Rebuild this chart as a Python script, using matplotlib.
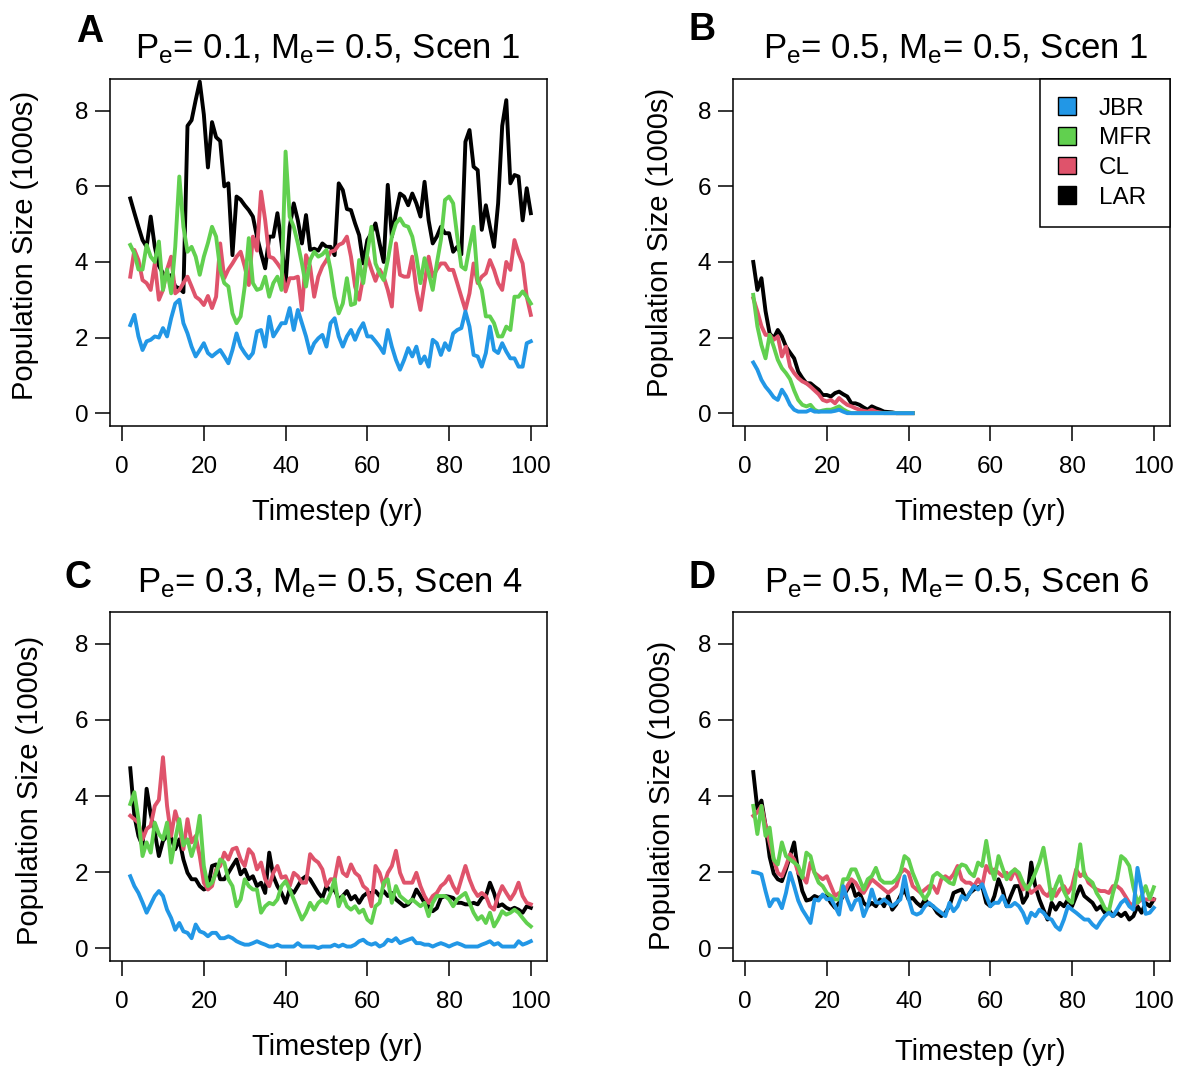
import numpy as np
import matplotlib
matplotlib.use('Agg')
import matplotlib.pyplot as plt
from matplotlib.patches import Patch

plt.rcParams['font.family'] = ['Liberation Sans', 'DejaVu Sans']
plt.rcParams['mathtext.fontset'] = 'custom'
plt.rcParams['mathtext.rm'] = 'Liberation Sans'
plt.rcParams['mathtext.it'] = 'Liberation Sans:italic'

# first simulated year shown in every series
START_YEAR = 2

series_names = ['JBR', 'MFR', 'CL', 'LAR']
series_colors = ['#2297E6', '#61D04F', '#DF536B', 'black']

# ---- panel A: Pe=0.1, Me=0.5, Scen 1 (years 2..100)
a_jbr = [2.33, 2.6, 2.03, 1.67, 1.9, 1.94, 2.03, 2.0, 2.25, 2.03,
         2.51, 2.9, 3.0, 2.38, 2.11, 1.76, 1.5, 1.67, 1.85, 1.59,
         1.5, 1.59, 1.67, 1.5, 1.32, 1.67, 2.11, 1.76, 1.59, 1.45,
         1.59, 2.16, 2.2, 1.76, 2.55, 2.03, 2.2, 2.38, 2.38, 2.78,
         2.2, 2.73, 2.38, 2.03, 1.59, 1.85, 1.98, 2.07, 1.76, 2.38,
         2.51, 2.03, 1.76, 2.03, 2.2, 1.94, 2.2, 2.38, 2.03, 2.03,
         1.9, 1.76, 1.59, 2.2, 1.76, 1.41, 1.15, 1.41, 1.72, 1.5,
         1.76, 1.32, 1.5, 1.23, 1.94, 1.85, 1.54, 1.85, 1.67, 2.11,
         2.2, 2.25, 2.69, 2.29, 1.54, 1.5, 1.23, 1.59, 2.29, 1.67,
         1.59, 1.85, 1.63, 1.45, 1.45, 1.23, 1.23, 1.85, 1.9]
a_mfr = [4.45, 4.23, 3.8, 3.8, 4.45, 4.14, 4.0, 4.54, 3.26, 3.8,
         3.17, 4.4, 6.26, 4.93, 4.27, 4.4, 4.14, 3.66, 4.14, 4.5,
         4.93, 4.67, 3.8, 3.44, 3.35, 2.64, 2.38, 2.56, 3.35, 4.63,
         3.44, 3.26, 3.3, 3.61, 3.08, 3.44, 3.61, 3.26, 6.92, 5.2,
         4.93, 4.49, 3.96, 3.35, 4.05, 4.27, 4.14, 4.2, 4.32, 3.8,
         3.08, 2.64, 2.9, 3.57, 2.86, 2.9, 4.05, 3.44, 4.23, 4.93,
         3.96, 3.7, 3.52, 4.05, 4.67, 5.02, 5.15, 4.97, 4.93, 4.67,
         4.14, 3.44, 4.1, 3.7, 3.26, 3.96, 4.58, 5.64, 5.73, 5.55,
         4.67, 3.88, 3.8, 4.4, 4.93, 3.52, 3.26, 2.56, 2.56, 2.38,
         2.03, 2.03, 2.29, 2.2, 3.08, 3.08, 3.22, 3.08, 2.9]
a_cl = [3.61, 4.32, 4.05, 3.52, 3.44, 3.26, 3.96, 3.0, 3.26, 3.8,
        4.14, 3.17, 3.26, 3.44, 3.61, 3.35, 3.08, 3.0, 2.86, 3.1,
        2.78, 3.08, 4.49, 3.57, 3.8, 3.96, 4.14, 4.27, 3.88, 3.39,
        4.67, 4.3, 5.86, 5.11, 4.14, 4.1, 3.96, 3.8, 3.22, 3.57,
        3.57, 3.61, 2.73, 4.18, 3.88, 3.08, 3.61, 3.88, 4.05, 4.27,
        4.3, 4.45, 4.5, 4.67, 4.14, 3.35, 3.0, 3.61, 4.14, 3.8,
        3.5, 3.8, 3.61, 3.26, 2.82, 4.49, 3.66, 3.61, 3.61, 4.14,
        3.26, 2.73, 3.44, 4.14, 3.61, 3.8, 3.96, 3.96, 3.79, 3.79,
        3.44, 3.08, 2.73, 3.17, 3.96, 3.44, 3.61, 3.7, 4.05, 3.79,
        3.44, 3.26, 4.0, 3.79, 4.58, 4.23, 3.96, 3.08, 2.6]
a_lar = [5.68, 5.3, 4.93, 4.58, 4.4, 5.2, 4.4, 3.9, 3.7, 3.6,
         3.65, 3.35, 3.3, 3.2, 7.6, 7.75, 8.28, 8.77, 7.9, 6.5,
         7.7, 7.3, 7.2, 6.0, 6.08, 4.18, 5.73, 5.65, 5.5, 5.37,
         5.2, 4.67, 4.23, 3.83, 4.67, 4.67, 5.29, 4.49, 3.44, 4.93,
         5.55, 5.1, 4.49, 5.24, 4.32, 4.35, 4.3, 4.49, 4.4, 4.4,
         4.18, 6.08, 5.9, 5.4, 5.37, 5.02, 4.71, 3.96, 4.58, 4.76,
         5.02, 4.49, 4.0, 6.04, 4.67, 5.29, 5.81, 5.73, 5.5, 5.81,
         5.55, 5.2, 6.12, 5.1, 4.49, 4.67, 4.93, 4.76, 4.76, 4.27,
         4.4, 4.2, 7.18, 7.49, 6.52, 6.43, 4.85, 5.5, 4.93, 4.4,
         5.55, 7.6, 8.28, 6.08, 6.3, 6.26, 5.1, 5.95, 5.29]

# ---- panel B: Pe=0.5, Me=0.5, Scen 1 (years 2..41, all extinct afterwards)
b_jbr = [1.34, 1.15, 0.88, 0.7, 0.57, 0.42, 0.35, 0.62, 0.45, 0.22,
         0.09, 0.04, 0.04, 0.04, 0.09, 0.04, 0.04, 0.04, 0.04, 0.04,
         0.06, 0.09, 0.04, 0, 0, 0, 0, 0, 0, 0,
         0, 0, 0, 0, 0, 0, 0, 0, 0, 0]
b_mfr = [3.13, 2.3, 1.8, 1.45, 2.07, 1.76, 1.41, 1.19, 1.06, 0.9,
         0.6, 0.35, 0.22, 0.18, 0.22, 0.09, 0.04, 0.07, 0.09, 0.09,
         0.13, 0.18, 0.1, 0.04, 0, 0, 0, 0, 0, 0,
         0, 0, 0, 0, 0, 0, 0, 0, 0, 0]
b_cl = [3.04, 2.69, 2.3, 2.07, 2.07, 1.94, 2.03, 1.5, 1.76, 1.23,
        1.06, 0.93, 0.84, 0.79, 0.7, 0.6, 0.5, 0.35, 0.31, 0.35,
        0.26, 0.4, 0.3, 0.22, 0.18, 0.13, 0.09, 0.06, 0.04, 0.09,
        0.04, 0.02, 0, 0, 0, 0, 0, 0, 0, 0]
b_lar = [4.0, 3.26, 3.57, 2.7, 2.11, 1.98, 2.2, 2.03, 1.76, 1.6,
         1.45, 1.1, 0.93, 0.79, 0.79, 0.7, 0.62, 0.48, 0.48, 0.44,
         0.53, 0.57, 0.5, 0.44, 0.26, 0.26, 0.22, 0.15, 0.09, 0.18,
         0.13, 0.09, 0.04, 0.03, 0.02, 0, 0, 0, 0, 0]

# ---- panel C: Pe=0.3, Me=0.5, Scen 4 (years 2..100)
c_jbr = [1.89, 1.63, 1.45, 1.2, 0.93, 1.15, 1.37, 1.5, 1.37, 1.01,
         0.79, 0.48, 0.66, 0.44, 0.4, 0.26, 0.62, 0.44, 0.4, 0.31,
         0.4, 0.4, 0.26, 0.26, 0.31, 0.26, 0.18, 0.13, 0.09, 0.09,
         0.13, 0.18, 0.13, 0.09, 0.04, 0.04, 0.09, 0.04, 0.04, 0.04,
         0.04, 0.13, 0.04, 0.04, 0.04, 0.04, 0.0, 0.04, 0.04, 0.04,
         0.09, 0.04, 0.09, 0.04, 0.04, 0.09, 0.18, 0.22, 0.13, 0.09,
         0.13, 0.04, 0.09, 0.22, 0.18, 0.26, 0.13, 0.18, 0.22, 0.26,
         0.13, 0.13, 0.09, 0.09, 0.04, 0.09, 0.13, 0.09, 0.04, 0.09,
         0.13, 0.09, 0.04, 0.04, 0.04, 0.04, 0.09, 0.13, 0.18, 0.09,
         0.13, 0.04, 0.04, 0.04, 0.04, 0.18, 0.09, 0.13, 0.18]
c_mfr = [3.79, 4.1, 3.39, 2.42, 2.78, 2.51, 3.3, 3.0, 2.86, 3.3,
         2.25, 2.86, 3.39, 2.7, 2.86, 2.42, 2.78, 3.48, 2.16, 1.63,
         1.72, 1.98, 2.33, 2.25, 1.81, 1.63, 1.1, 1.28, 1.81, 1.63,
         1.54, 1.54, 0.93, 1.1, 1.19, 1.15, 1.28, 1.63, 1.76, 1.54,
         1.28, 1.01, 0.75, 0.93, 1.19, 1.01, 1.19, 1.28, 1.19, 1.45,
         1.81, 1.1, 1.37, 1.1, 1.01, 1.1, 0.93, 1.01, 0.75, 0.66,
         1.1, 1.19, 1.72, 1.81, 1.19, 1.63, 1.37, 1.28, 1.19, 1.28,
         1.19, 1.1, 1.19, 0.84, 1.19, 1.37, 1.37, 1.37, 1.28, 1.1,
         1.28, 1.37, 1.45, 1.19, 0.93, 0.75, 0.84, 0.66, 0.93, 0.57,
         0.75, 0.97, 0.88, 0.93, 1.01, 0.93, 0.79, 0.66, 0.57]
c_cl = [3.48, 3.39, 3.3, 2.86, 3.13, 3.22, 3.74, 3.9, 5.02, 3.74,
        2.95, 3.6, 3.22, 2.6, 3.39, 2.78, 2.95, 2.42, 1.72, 1.54,
        1.63, 2.07, 2.16, 2.51, 2.33, 2.6, 2.64, 2.33, 2.16, 2.6,
        2.47, 2.07, 2.25, 1.81, 1.63, 1.98, 2.16, 1.85, 1.89, 1.63,
        1.98, 1.89, 1.72, 1.72, 2.47, 2.33, 2.25, 2.07, 1.63, 1.81,
        1.81, 2.38, 1.98, 1.89, 2.2, 1.98, 1.89, 1.63, 1.54, 1.1,
        2.16, 1.98, 1.63, 1.98, 2.16, 2.56, 1.98, 1.72, 1.72, 1.72,
        1.98, 1.63, 1.37, 1.19, 1.37, 1.45, 1.63, 1.72, 1.89, 1.63,
        1.45, 1.81, 2.16, 1.81, 1.54, 1.37, 1.45, 1.37, 1.1, 1.01,
        1.37, 1.63, 1.45, 1.28, 1.45, 1.72, 1.37, 1.19, 1.15]
c_lar = [4.73, 3.48, 2.95, 2.69, 4.19, 3.52, 3.04, 2.42, 2.82, 2.95,
         2.9, 2.6, 2.86, 2.33, 1.98, 1.81, 1.81, 1.63, 1.54, 1.59,
         2.16, 2.2, 1.81, 1.81, 1.98, 2.16, 2.33, 1.94, 2.07, 1.81,
         1.89, 1.63, 1.72, 1.45, 2.51, 1.89, 1.63, 1.45, 1.19, 1.54,
         1.45, 1.63, 1.81, 1.89, 1.81, 1.63, 1.45, 1.32, 1.63, 1.5,
         1.54, 1.28, 1.37, 1.5, 1.28, 1.37, 1.19, 1.37, 1.45, 1.45,
         1.5, 1.37, 1.5, 1.37, 1.45, 1.28, 1.19, 1.1, 1.15, 1.28,
         1.54, 1.37, 1.19, 1.1, 0.97, 1.05, 1.32, 1.37, 1.35, 1.32,
         1.19, 1.19, 1.15, 1.15, 1.19, 1.15, 1.32, 1.37, 1.72, 1.45,
         1.1, 1.15, 1.06, 1.01, 1.06, 1.01, 0.93, 1.1, 1.06]

# ---- panel D: Pe=0.5, Me=0.5, Scen 6 (years 2..100)
d_jbr = [2.0, 1.98, 1.94, 1.5, 1.1, 1.28, 1.28, 1.05, 1.45, 1.98,
         1.63, 1.25, 1.01, 0.84, 0.66, 1.28, 1.25, 1.41, 1.28, 1.3,
         1.1, 0.88, 1.63, 1.28, 1.01, 1.25, 1.3, 0.84, 1.1, 1.54,
         1.2, 1.19, 1.28, 1.19, 1.1, 1.19, 1.28, 1.89, 1.3, 0.93,
         0.88, 0.93, 1.1, 1.19, 1.1, 1.01, 0.93, 0.84, 1.19, 0.97,
         1.1, 1.37, 1.28, 1.45, 1.63, 1.54, 1.68, 1.37, 1.1, 1.19,
         1.19, 1.37, 1.1, 1.1, 1.19, 1.1, 0.93, 0.66, 0.93, 0.84,
         1.01, 0.93, 0.79, 0.75, 0.57, 0.48, 0.75, 1.1, 1.01, 0.93,
         0.84, 0.75, 0.75, 0.62, 0.53, 0.7, 0.84, 0.93, 0.84, 1.01,
         1.19, 1.28, 1.1, 1.01, 2.11, 1.54, 0.9, 0.93, 1.06]
d_mfr = [3.74, 3.0, 3.74, 2.95, 3.17, 2.33, 2.2, 2.78, 2.42, 2.33,
         2.25, 2.16, 1.85, 2.51, 2.42, 1.98, 1.72, 1.63, 1.45, 1.37,
         1.28, 1.28, 1.81, 1.81, 2.07, 2.07, 1.81, 1.54, 1.81, 1.89,
         2.11, 1.81, 1.72, 1.72, 1.72, 1.81, 1.98, 2.42, 2.33, 1.98,
         1.72, 1.45, 1.28, 1.45, 1.89, 1.98, 1.89, 1.81, 1.72, 1.68,
         2.07, 2.2, 2.16, 1.98, 1.89, 2.25, 2.16, 2.82, 2.16, 1.81,
         2.42, 2.1, 1.81, 1.98, 2.07, 1.98, 1.72, 1.54, 1.72, 1.98,
         2.25, 2.64, 2.0, 1.28, 1.63, 1.89, 1.5, 1.28, 1.19, 1.98,
         2.73, 1.9, 1.81, 1.72, 1.45, 1.28, 1.05, 0.97, 1.45, 1.81,
         2.42, 2.33, 2.16, 1.6, 1.19, 1.37, 1.63, 1.3, 1.6]
d_cl = [3.48, 3.57, 3.74, 3.22, 2.78, 2.33, 1.98, 1.89, 2.16, 2.47,
        2.33, 1.98, 1.89, 1.72, 2.25, 1.98, 1.89, 1.81, 1.89, 1.63,
        1.37, 1.45, 1.37, 1.63, 1.81, 1.72, 1.54, 1.45, 1.63, 1.81,
        1.72, 1.63, 1.54, 1.45, 1.54, 1.63, 1.98, 2.07, 1.98, 1.63,
        1.54, 1.45, 1.54, 1.63, 1.63, 1.45, 1.81, 1.89, 1.81, 1.94,
        2.16, 1.81, 1.72, 1.72, 1.63, 1.81, 1.63, 2.16, 1.98, 2.07,
        1.98, 1.89, 1.98, 1.81, 2.07, 1.81, 1.54, 1.63, 1.45, 1.54,
        1.63, 1.45, 1.37, 1.54, 1.37, 1.54, 1.63, 1.45, 1.63, 2.07,
        1.89, 1.98, 1.72, 1.63, 1.54, 1.5, 1.5, 1.45, 1.63, 1.63,
        1.54, 1.37, 1.19, 1.1, 1.19, 1.28, 1.28, 1.28, 1.28]
d_lar = [4.63, 3.66, 3.88, 3.22, 2.4, 1.96, 1.81, 1.76, 2.07, 2.42,
         2.78, 1.98, 1.5, 1.25, 1.28, 1.37, 1.32, 1.37, 1.37, 1.19,
         1.06, 1.19, 1.37, 1.54, 1.72, 1.37, 1.45, 1.19, 1.1, 1.19,
         1.1, 1.28, 1.1, 1.37, 1.01, 1.15, 1.37, 1.54, 1.28, 1.32,
         1.19, 1.1, 1.28, 1.15, 1.1, 0.93, 0.84, 0.93, 1.1, 1.45,
         1.5, 1.54, 1.28, 1.45, 1.54, 1.6, 1.63, 1.19, 1.1, 1.37,
         1.81, 1.54, 1.1, 1.37, 1.63, 1.63, 1.19, 1.37, 2.25, 1.63,
         1.28, 1.01, 0.75, 1.19, 1.01, 1.19, 1.1, 1.28, 1.1, 1.37,
         1.63, 1.37, 1.28, 1.19, 1.01, 1.1, 0.93, 1.01, 0.84, 0.93,
         0.84, 0.93, 0.75, 0.84, 1.1, 0.93, 1.19, 1.1, 1.28]

panel_letters = ['A', 'B', 'C', 'D']
pe_values = ['0.1', '0.5', '0.3', '0.5']
me_values = ['0.5', '0.5', '0.5', '0.5']
scen_values = ['1', '1', '4', '6']
panel_data = [
    [a_jbr, a_mfr, a_cl, a_lar],
    [b_jbr, b_mfr, b_cl, b_lar],
    [c_jbr, c_mfr, c_cl, c_lar],
    [d_jbr, d_mfr, d_cl, d_lar],
]
x_ticks = [0, 20, 40, 60, 80, 100]
y_ticks = [0, 2, 4, 6, 8]

W, H = 1181, 1071
fig = plt.figure(figsize=(W / 100, H / 100), dpi=100)


def fx(px):
    return px / W


def fy(py):
    return 1 - py / H


# pixel layout: axes box (left, top, right, bottom), title, letter, labels
layout = [
    dict(box=(110, 79, 547, 426), title=(328, 58), letter=(90, 42), xlab=(337, 512), ylab=(25, 245)),
    dict(box=(733, 79, 1170, 426), title=(956, 58), letter=(702, 40), xlab=(980, 512), ylab=(660, 242)),
    dict(box=(110, 612, 547, 961), title=(330, 592), letter=(78, 588), xlab=(337, 1047), ylab=(30, 790)),
    dict(box=(733, 612, 1170, 961), title=(957, 592), letter=(702, 588), xlab=(980, 1052), ylab=(662, 795)),
]

for i, lay in enumerate(layout):
    l, t, r, b = lay['box']
    ax = fig.add_axes([fx(l), fy(b), (r - l) / W, (b - t) / H])
    # draw LAR first so the other series sit on top
    for k in [3, 2, 1, 0]:
        vals = panel_data[i][k]
        years = np.arange(START_YEAR, START_YEAR + len(vals))
        ax.plot(years, vals, color=series_colors[k], lw=2.8, solid_joinstyle='round')
    ax.set_xlim(-2.96, 103.96)
    ax.set_ylim(-0.34, 8.84)
    ax.set_xticks(x_ticks)
    ax.set_yticks(y_ticks)
    ax.tick_params(axis='both', direction='out', length=10.5, width=1.1,
                   labelsize=17.5, color='black')
    ax.tick_params(axis='x', pad=11)
    ax.tick_params(axis='y', pad=5)
    for s in ax.spines.values():
        s.set_linewidth(1.1)
        s.set_color('black')

    title = (r'$\mathregular{P_e}$= ' + pe_values[i] + r', $\mathregular{M_e}$= '
             + me_values[i] + ', Scen ' + scen_values[i])
    fig.text(fx(lay['title'][0]), fy(lay['title'][1]), title, ha='center',
             va='baseline', fontsize=25)
    fig.text(fx(lay['letter'][0]), fy(lay['letter'][1]), panel_letters[i],
             ha='center', va='baseline', fontsize=27, fontweight='bold')
    fig.text(fx(lay['xlab'][0]), fy(lay['xlab'][1]), 'Timestep (yr)',
             ha='center', va='center', fontsize=21)
    fig.text(fx(lay['ylab'][0]), fy(lay['ylab'][1]), 'Population Size (1000s)',
             ha='center', va='center', rotation=90, fontsize=21)

    if i == 1:
        handles = [Patch(facecolor=c, edgecolor='black', linewidth=1.0)
                   for c in series_colors]
        ax.legend(handles, series_names, loc='upper right', fontsize=17.5,
                  frameon=True, fancybox=False, edgecolor='black',
                  framealpha=1, borderaxespad=0, borderpad=0.75,
                  labelspacing=0.3, handlelength=0.75, handleheight=0.75,
                  handletextpad=0.95).get_frame().set_linewidth(1.1)

fig.savefig('out.png', dpi=100)
